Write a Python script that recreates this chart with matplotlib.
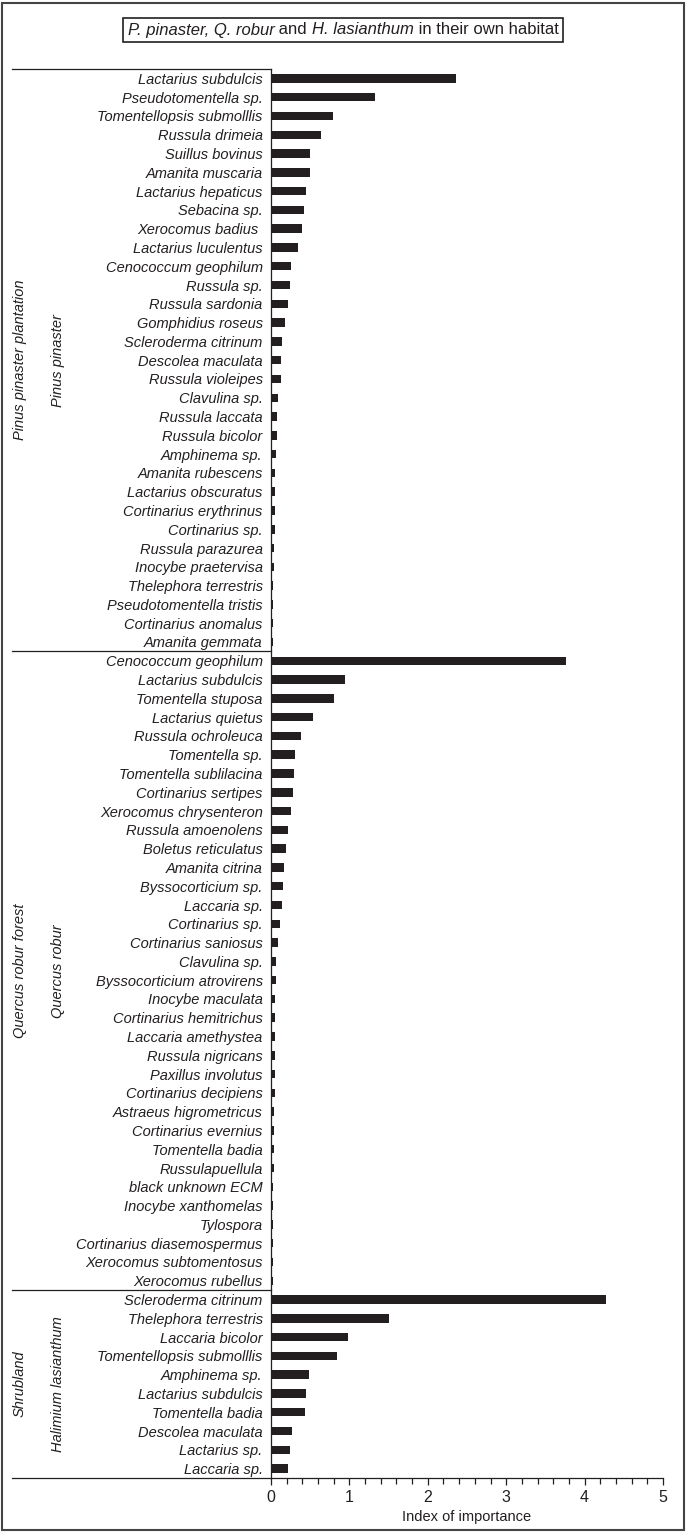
import numpy as np
import matplotlib
matplotlib.use("Agg")
import matplotlib.pyplot as plt
from matplotlib.offsetbox import TextArea, HPacker, AnchoredOffsetbox
from matplotlib.patches import Rectangle
import matplotlib.transforms as mtransforms

plt.rcParams['font.family'] = ['Liberation Sans Narrow', 'Liberation Sans', 'DejaVu Sans']

# species and index of importance, per habitat (top to bottom)
pinus_species = [
    "Lactarius subdulcis", "Pseudotomentella sp.", "Tomentellopsis submolllis", "Russula drimeia",
    "Suillus bovinus", "Amanita muscaria", "Lactarius hepaticus", "Sebacina sp.", "Xerocomus badius ",
    "Lactarius luculentus", "Cenococcum geophilum", "Russula sp.", "Russula sardonia",
    "Gomphidius roseus", "Scleroderma citrinum", "Descolea maculata", "Russula violeipes",
    "Clavulina sp.", "Russula laccata", "Russula bicolor", "Amphinema sp.", "Amanita rubescens",
    "Lactarius obscuratus", "Cortinarius erythrinus", "Cortinarius sp.", "Russula parazurea",
    "Inocybe praetervisa", "Thelephora terrestris", "Pseudotomentella tristis",
    "Cortinarius anomalus", "Amanita gemmata",
]
pinus_values = [
    2.36, 1.33, 0.79, 0.64, 0.50, 0.50, 0.45, 0.42, 0.39, 0.35, 0.25, 0.24, 0.22, 0.18, 0.14,
    0.13, 0.13, 0.09, 0.077, 0.077, 0.06, 0.05, 0.047, 0.047, 0.047, 0.038, 0.038, 0.03, 0.03,
    0.025, 0.025,
]

quercus_species = [
    "Cenococcum geophilum", "Lactarius subdulcis", "Tomentella stuposa", "Lactarius quietus",
    "Russula ochroleuca", "Tomentella sp.", "Tomentella sublilacina", "Cortinarius sertipes",
    "Xerocomus chrysenteron", "Russula amoenolens", "Boletus reticulatus", "Amanita citrina",
    "Byssocorticium sp.", "Laccaria sp.", "Cortinarius sp.", "Cortinarius saniosus",
    "Clavulina sp.", "Byssocorticium atrovirens", "Inocybe maculata", "Cortinarius hemitrichus",
    "Laccaria amethystea", "Russula nigricans", "Paxillus involutus", "Cortinarius decipiens",
    "Astraeus higrometricus", "Cortinarius evernius", "Tomentella badia", "Russulapuellula",
    "black unknown ECM", "Inocybe xanthomelas", "Tylospora", "Cortinarius diasemospermus",
    "Xerocomus subtomentosus", "Xerocomus rubellus",
]
quercus_values = [
    3.76, 0.94, 0.80, 0.53, 0.38, 0.30, 0.29, 0.28, 0.26, 0.22, 0.19, 0.17, 0.15, 0.14, 0.11,
    0.09, 0.07, 0.07, 0.055, 0.055, 0.05, 0.05, 0.047, 0.047, 0.043, 0.04, 0.035, 0.035, 0.03,
    0.03, 0.02, 0.02, 0.02, 0.02,
]

halimium_species = [
    "Scleroderma citrinum", "Thelephora terrestris", "Laccaria bicolor", "Tomentellopsis submolllis",
    "Amphinema sp.", "Lactarius subdulcis", "Tomentella badia", "Descolea maculata",
    "Lactarius sp.", "Laccaria sp.",
]
halimium_values = [4.27, 1.51, 0.98, 0.84, 0.49, 0.45, 0.44, 0.27, 0.24, 0.22]

groups = [
    ("Pinus pinaster plantation", "Pinus pinaster", pinus_species, pinus_values),
    ("Quercus robur forest", "Quercus robur", quercus_species, quercus_values),
    ("Shrubland", "Halimium lasianthum", halimium_species, halimium_values),
]

dark = "#231f20"

fig = plt.figure(figsize=(6.86, 15.33), dpi=100)
ax = fig.add_axes([271 / 686, 1 - 1478 / 1533, 392 / 686, (1478 - 69) / 1533])

labels = []
values = []
for _, _, sp, vals in groups:
    labels += sp
    values += vals
ypos = np.arange(len(labels))

ax.barh(ypos, values, height=0.45, color=dark)
ax.set_ylim(len(labels) - 0.5, -0.5)
ax.set_xlim(0, 5)
ax.set_yticks(ypos)
ax.set_yticklabels(labels, style='italic', fontsize=10.5, color=dark)
ax.tick_params(axis='y', length=0, pad=6)
ax.set_xticks(range(6))
ax.set_xticks(np.arange(0, 5.01, 0.2), minor=True)
ax.tick_params(axis='x', which='major', length=5, width=0.9, labelsize=11.5, pad=4, colors=dark)
ax.tick_params(axis='x', which='minor', length=4, width=0.9, colors=dark)
ax.set_xlabel("Index of importance", fontsize=10.5, color=dark, labelpad=3)
for s in ['top', 'right']:
    ax.spines[s].set_visible(False)
for s in ['left', 'bottom']:
    ax.spines[s].set_linewidth(0.9)
    ax.spines[s].set_color(dark)

# group separators and rotated habitat / host labels
trans = mtransforms.blended_transform_factory(ax.transAxes, ax.transData)
left = (12 - 271) / 392
start = 0
ax.plot([left, 0], [-0.5, -0.5], transform=trans, color=dark, lw=0.9, clip_on=False)
for outer, inner, sp, _ in groups:
    end = start + len(sp)
    ax.plot([left, 0], [end - 0.5, end - 0.5], transform=trans, color=dark, lw=0.9, clip_on=False)
    mid = (start + end - 1) / 2
    ax.text((20 - 271) / 392, mid, outer, transform=trans, rotation=90, style='italic',
            fontsize=10.5, ha='center', va='center', color=dark)
    ax.text((58 - 271) / 392, mid, inner, transform=trans, rotation=90, style='italic',
            fontsize=10.5, ha='center', va='center', color=dark)
    start = end

# title box with mixed italic text
parts = [("P. pinaster, Q. robur", 'italic'), (" and ", 'normal'),
         ("H. lasianthum", 'italic'), (" in their own habitat", 'normal')]
areas = [TextArea(t, textprops=dict(fontsize=12, style=st, color=dark)) for t, st in parts]
box = HPacker(children=areas, align='baseline', pad=0, sep=0)
anch = AnchoredOffsetbox(loc='center', child=box, pad=0.35, borderpad=0, frameon=True,
                         bbox_to_anchor=(343 / 686, 1 - 30 / 1533), bbox_transform=fig.transFigure)
anch.patch.set_boxstyle("square", pad=0)
anch.patch.set_edgecolor(dark)
anch.patch.set_linewidth(1.2)
fig.add_artist(anch)

# outer frame
fig.add_artist(Rectangle((0.003, 0.002), 0.994, 0.996, transform=fig.transFigure,
                         fill=False, edgecolor='#444444', lw=1.5))

fig.savefig("out.png", dpi=100)
